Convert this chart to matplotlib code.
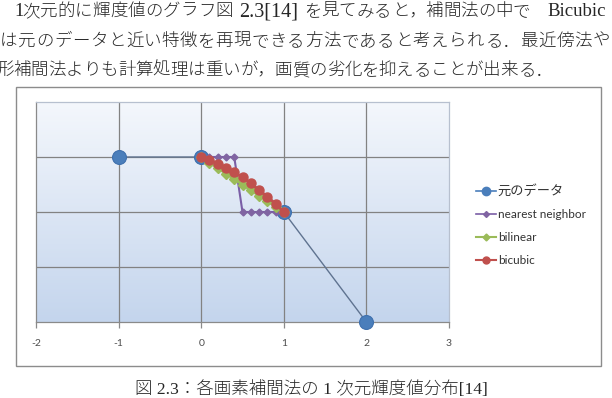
import numpy as np
import matplotlib
matplotlib.use("Agg")
import matplotlib.pyplot as plt
from matplotlib.colors import LinearSegmentedColormap
from matplotlib.patches import Rectangle
from matplotlib.lines import Line2D

# ---------------- data ----------------
x_ticks = [-2, -1, 0, 1, 2, 3]
x_tick_labels = ["-2", "-1", "0", "1", "2", "3"]

series_names = ["元のデータ", "nearest neighbor", "bilinear", "bicubic"]

x_orig = [-1, 0, 1, 2]
y_orig = [3, 3, 2, 0]

x_interp = [0.0, 0.1, 0.2, 0.3, 0.4, 0.5, 0.6, 0.7, 0.8, 0.9, 1.0]
y_nearest = [3, 3, 3, 3, 3, 2, 2, 2, 2, 2, 2]
y_bilinear = [3.0, 2.9, 2.8, 2.7, 2.6, 2.5, 2.4, 2.3, 2.2, 2.1, 2.0]
y_bicubic = [3.00, 2.95, 2.88, 2.80, 2.72, 2.63, 2.52, 2.40, 2.28, 2.15, 2.00]

caption = "図 2.3：各画素補間法の 1 次元輝度値分布[14]"

# ---------------- figure ----------------
W, H = 612, 398
fig = plt.figure(figsize=(W / 100, H / 100), dpi=100)
fig.patch.set_facecolor("white")


def fx(x):
    return x / W


def fy(y):
    return 1 - y / H


TEXT_FAMILY = ["Liberation Serif", "Noto Sans CJK JP"]
TEXT_SIZE = 12.6
TEXT_COLOR = "#262626"
tk = dict(family=TEXT_FAMILY, fontsize=TEXT_SIZE, color=TEXT_COLOR, fontweight="light")
EM = TEXT_SIZE * 100 / 72.0


def cjk_run(s, x0, x1, base):
    p = (x1 - x0) / len(s)
    i = 0
    while i < len(s):
        ch = s[i]
        if i + 1 < len(s) and s[i + 1] in "，．":
            # character + following punctuation drawn together
            fig.text(fx(x0 + i * p + (p - EM) / 2 + 1), fy(base), ch + s[i + 1],
                     ha="left", va="baseline", **tk)
            i += 2
            continue
        fig.text(fx(x0 + (i + 0.5) * p), fy(base), ch, ha="center", va="baseline", **tk)
        i += 1


def latin(s, x0, base, size=13.5):
    kw = dict(tk)
    kw["fontsize"] = size
    fig.text(fx(x0), fy(base), s, ha="left", va="baseline", **kw)


# paragraph text (page fragment above the figure)
b1, b2, b3 = 16.0, 46.0, 75.0
latin("1", 14, b1)
cjk_run("次元的に輝度値のグラフ図", 22, 233, b1)
latin("2.3[14]", 239, b1, size=14.5)
cjk_run("を見てみると，補間法の中で", 304, 530, b1)
latin("Bicubic", 547, b1)
cjk_run("は元のデータと近い特徴を再現できる方法であると考えられる．最近傍法や", 0, 610, b2)
cjk_run("形補間法よりも計算処理は重いが，画質の劣化を抑えることが出来る．", -4, 553, b3)

# caption
fig.text(fx(311), fy(394), caption, ha="center", va="baseline", **tk)

# chart box
fig.add_artist(Rectangle((fx(16), fy(366)), fx(601) - fx(16), fy(87) - fy(366),
                         transform=fig.transFigure, facecolor="white",
                         edgecolor="#8c8c8c", lw=1.0, zorder=0))

ax = fig.add_axes([fx(36), fy(322), fx(449) - fx(36), fy(102) - fy(322)])
ax.set_xlim(-2, 3)
ax.set_ylim(0, 4)

grad = np.linspace(0, 1, 256).reshape(-1, 1)
cmap = LinearSegmentedColormap.from_list("g", ["#c4d5ed", "#f4f7fc"])
ax.imshow(grad, extent=[-2, 3, 0, 4], origin="lower", aspect="auto", cmap=cmap, zorder=0)

for v in x_ticks[1:-1]:
    ax.axvline(v, color="#828282", lw=0.9, zorder=1)
for v in [1, 2, 3]:
    ax.axhline(v, color="#828282", lw=0.9, zorder=1)

ax.plot(x_orig, y_orig, color="#5f7390", lw=1.0, marker="o", ms=10,
        mfc="#4a7ebb", mec="#3f70ad", mew=0.8, zorder=3, clip_on=False)
ax.plot(x_interp, y_nearest, color="#7a5ea6", lw=1.5, marker="D", ms=3.5,
        mfc="#8064a2", mec="#8064a2", zorder=4)
ax.plot(x_interp, y_bilinear, color="#9bbb59", lw=2.0, marker="D", ms=5,
        mfc="#9bbb59", mec="#9bbb59", zorder=5)
ax.plot(x_interp, y_bicubic, color="#c0504d", lw=2.0, marker="o", ms=6.5,
        mfc="#c0504d", mec="#c0504d", zorder=6)

ax.set_xticks(x_ticks)
ax.set_xticklabels(x_tick_labels)
ax.set_yticks([])
ax.tick_params(axis="x", direction="out", length=4, width=0.9, color="#8a8a8a",
               labelsize=7.5, labelcolor="#4d4d4d", pad=8)
for lab in ax.get_xticklabels():
    lab.set_family("Lato")
for s in ["left", "bottom"]:
    ax.spines[s].set_color("#8a8a8a")
    ax.spines[s].set_linewidth(0.9)
for s in ["top", "right"]:
    ax.spines[s].set_color("#b7c0cf")
    ax.spines[s].set_linewidth(0.9)

handles = [
    Line2D([], [], color="#4a7ebb", lw=1.2, marker="o", ms=6, mfc="#4a7ebb", mec="#4a7ebb"),
    Line2D([], [], color="#7a5ea6", lw=1.2, marker="D", ms=3, mfc="#8064a2", mec="#8064a2"),
    Line2D([], [], color="#9bbb59", lw=1.5, marker="D", ms=3.5, mfc="#9bbb59", mec="#9bbb59"),
    Line2D([], [], color="#c0504d", lw=1.5, marker="o", ms=5, mfc="#c0504d", mec="#c0504d"),
]
leg = ax.legend(handles, series_names, loc="center left",
                bbox_to_anchor=(fx(470), fy(225)), bbox_transform=fig.transFigure,
                frameon=False, prop=dict(family=["Lato", "Noto Sans CJK JP"], size=8.5),
                handlelength=1.7, handletextpad=0.15, labelspacing=1.0, borderpad=0)
for t in leg.get_texts():
    t.set_color("#333333")
leg.get_texts()[0].set_fontsize(9.5)

fig.savefig("out.png", dpi=100)
